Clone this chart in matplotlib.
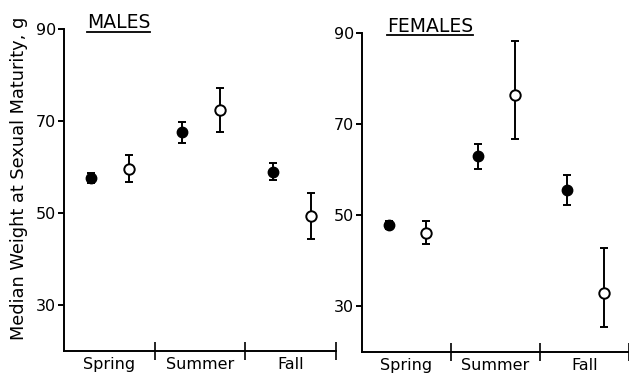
import matplotlib
matplotlib.use("Agg")
import matplotlib.pyplot as plt
from matplotlib.lines import Line2D
import numpy as np

seasons = ["Spring", "Summer", "Fall"]
y_ticks = [30, 50, 70, 90]

# Males
male_filled = [57.6, 67.5, 59.0]
male_filled_err = [1.0, 2.2, 1.9]
male_open = [59.6, 72.4, 49.3]
male_open_err = [2.9, 4.8, 5.0]

# Females
female_filled = [47.9, 62.9, 55.5]
female_filled_lo = [0.8, 2.7, 3.3]
female_filled_hi = [0.8, 2.7, 3.3]
female_open = [46.2, 76.4, 33.0]
female_open_lo = [2.4, 9.7, 7.6]
female_open_hi = [2.5, 11.8, 9.9]

W, H = 629, 376
fig = plt.figure(figsize=(W / 100, H / 100), dpi=100)
plt.rcParams['font.family'] = ['DejaVu Sans']

def frac(x0, y_top, x1, y_bot):
    return [x0 / W, 1 - y_bot / H, (x1 - x0) / W, (y_bot - y_top) / H]

axL = fig.add_axes(frac(64, 29, 336, 351))
axR = fig.add_axes(frac(362, 33, 629, 352))

lw = 1.4
idx = np.arange(len(seasons))

def style(ax, xmax, title, title_x, title_y):
    ax.set_ylim(20, 90)
    ax.set_xlim(0, xmax)
    for s in ["top", "right"]:
        ax.spines[s].set_visible(False)
    for s in ["left", "bottom"]:
        ax.spines[s].set_linewidth(lw)
    ax.set_yticks(y_ticks)
    ax.set_yticklabels([str(v) for v in y_ticks], fontsize=11.5)
    ax.tick_params(axis="y", direction="out", length=4, width=lw, pad=1.5)
    ax.set_xticks([1, 2, 3])
    ax.set_xticklabels([])
    ax.tick_params(axis="x", which="major", direction="inout", length=13, width=1.2)
    ax.set_xticks(idx + 0.5, minor=True)
    ax.set_xticklabels(seasons, minor=True, fontsize=11.5)
    ax.tick_params(axis="x", which="minor", length=0, pad=4)
    t = fig.text(title_x / W, 1 - title_y / H, title, fontsize=13.5,
                 ha="left", va="center")
    return t

def plot_pts(ax, filled, flo, fhi, opn, olo, ohi):
    ax.errorbar(idx + 0.3, filled, yerr=[flo, fhi], fmt="o", color="black",
                mfc="black", mec="black", ms=7.5, elinewidth=lw, capsize=2.8,
                capthick=lw, clip_on=False)
    ax.errorbar(idx + 0.72, opn, yerr=[olo, ohi], fmt="o", color="black",
                mfc="white", mec="black", mew=1.4, ms=7.5, elinewidth=lw,
                capsize=2.8, capthick=lw, clip_on=False, zorder=3)

plot_pts(axL, male_filled, male_filled_err, male_filled_err,
         male_open, male_open_err, male_open_err)
plot_pts(axR, female_filled, female_filled_lo, female_filled_hi,
         female_open, female_open_lo, female_open_hi)

tL = style(axL, 3, "MALES", 87, 23)
tR = style(axR, (629 - 362) / 91, "FEMALES", 387, 27)

fig.text(19 / W, 1 - 178 / H, "Median Weight at Sexual Maturity, g",
         rotation=90, ha="center", va="center", fontsize=12.8)

fig.canvas.draw()
r = fig.canvas.get_renderer()
for t, uy in [(tL, 32), (tR, 35)]:
    bb = t.get_window_extent(r)
    fig.add_artist(Line2D([bb.x0 / W, bb.x1 / W], [1 - uy / H, 1 - uy / H],
                          transform=fig.transFigure, color="black", lw=1.3))

fig.savefig("out.png", dpi=100)
